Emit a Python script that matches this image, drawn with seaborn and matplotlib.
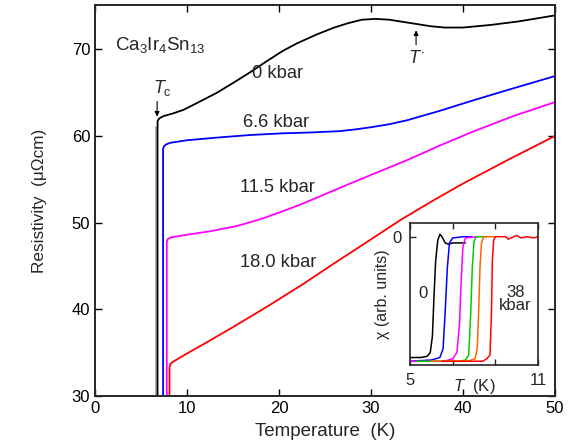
import pandas as pd
import matplotlib
matplotlib.use("Agg")
import matplotlib.pyplot as plt
import seaborn as sns

# ---------------- DATA ----------------
# resistivity vs temperature, one list pair per pressure
t_0 = [6.8, 6.8, 6.9, 7.1, 7.5, 8.5, 9.6, 11, 13.2, 15, 16.8, 18.5, 20.4, 22, 24.1, 26, 27.5, 29,
       30.5, 32, 33.5, 35, 36.5, 38, 40, 43, 46, 50]
r_0 = [30.0, 61.7, 61.9, 62.1, 62.3, 62.6, 63.0, 63.75, 64.95, 66.1, 67.3, 68.5, 69.8, 70.7, 71.7, 72.5, 73.0, 73.4,
       73.5, 73.4, 73.15, 72.9, 72.65, 72.5, 72.5, 72.8, 73.2, 73.9]

t_66 = [7.4, 7.4, 7.5, 7.7, 8.15, 10, 13.2, 16.8, 20.4, 23.5, 26.6, 28.3, 30, 32, 33.9, 37.5, 41.1, 45.5, 50]
r_66 = [30.0, 58.5, 58.8, 59.0, 59.2, 59.5, 59.8, 60.1, 60.3, 60.4, 60.55, 60.75, 61.0, 61.35, 61.8, 62.9, 64.1, 65.5, 66.9]

t_115 = [7.8, 7.8, 7.9, 8.3, 10, 12.5, 15.4, 18, 20.4, 22.6, 24.6, 26.6, 30, 33.9, 37.5, 41.1, 45.5, 50]
r_115 = [30.0, 47.7, 48.1, 48.3, 48.6, 49.0, 49.6, 50.4, 51.3, 52.2, 53.1, 54.0, 55.5, 57.2, 58.9, 60.5, 62.3, 63.9]

t_180 = [8.1, 8.1, 8.2, 8.4, 10, 12.5, 15.4, 19, 22.6, 26, 29.9, 33.2, 37, 40, 45, 50]
r_180 = [30.0, 33.3, 33.7, 33.9, 34.9, 36.4, 38.2, 40.5, 42.9, 45.3, 48.0, 50.3, 52.7, 54.5, 57.3, 60.0]

# faint grey trace just left of the 0 kbar transition
t_grey = [6.6, 6.6]
r_grey = [30.0, 61.0]

# inset: susceptibility steps, 0 ... 38 kbar
chi_t = {
    "0": [5.0, 5.5, 5.8, 5.95, 6.05, 6.12, 6.2, 6.3, 6.4, 6.5, 6.65, 6.8, 7.0, 7.3, 7.6],
    "b": [5.0, 6.0, 6.4, 6.55, 6.65, 6.75, 6.85, 7.0, 7.5, 7.9],
    "m": [5.0, 6.6, 7.0, 7.2, 7.32, 7.4, 7.48, 7.6, 8.2],
    "g": [5.3, 7.3, 7.6, 7.75, 7.85, 7.92, 8.0, 8.1, 8.6],
    "o": [6.0, 7.7, 8.05, 8.15, 8.22, 8.28, 8.35, 8.45, 9.0],
    "r": [6.5, 8.0, 8.4, 8.6, 8.75, 8.82, 8.86, 8.92, 9.0, 9.5, 9.6, 10.0, 10.2, 10.5, 10.8, 11.0],
}
chi_v = {
    "0": [-0.97, -0.97, -0.96, -0.93, -0.8, -0.5, -0.2, -0.03, 0.02, 0.0, -0.05, -0.06, -0.05, -0.05, -0.05],
    "b": [-1.0, -0.99, -0.97, -0.9, -0.6, -0.25, -0.05, -0.01, 0.0, 0.0],
    "m": [-1.0, -1.0, -0.98, -0.93, -0.7, -0.35, -0.08, -0.01, 0.0],
    "g": [-1.0, -1.0, -0.99, -0.95, -0.6, -0.25, -0.04, 0.0, 0.0],
    "o": [-1.0, -1.0, -0.98, -0.9, -0.6, -0.25, -0.05, 0.0, 0.0],
    "r": [-1.0, -1.0, -1.0, -0.98, -0.95, -0.6, -0.2, -0.03, 0.0, 0.0, -0.02, 0.01, -0.01, 0.0, -0.01, 0.0],
}
chi_colors = {"0": "#000000", "b": "#0000ff", "m": "#ff00ff",
              "g": "#00cc00", "o": "#ff6600", "r": "#ff0000"}

# ---------------- STYLE ----------------
sns.set_style("ticks")
plt.rcParams["font.family"] = ["Liberation Sans", "DejaVu Sans"]
plt.rcParams["mathtext.fontset"] = "custom"
plt.rcParams["mathtext.rm"] = "Liberation Sans"
plt.rcParams["mathtext.it"] = "Liberation Sans:italic"
plt.rcParams["xtick.direction"] = "in"
plt.rcParams["ytick.direction"] = "in"

fig = plt.figure(figsize=(5.75, 4.43), dpi=100)
ax = fig.add_axes([95 / 575, 47 / 443, 460 / 575, 391 / 443])

curves = [(t_grey, r_grey, "#aaaaaa"), (t_0, r_0, "black"), (t_66, r_66, "#0000ff"),
          (t_115, r_115, "#ff00ff"), (t_180, r_180, "#ff0000")]
for t, r, c in curves:
    df = pd.DataFrame({"T": t, "R": r})
    sns.lineplot(data=df, x="T", y="R", sort=False, estimator=None, color=c, lw=1.3, ax=ax)

ax.set_xlim(0, 50)
ax.set_ylim(30, 75.1)
ax.set_xticks([0, 10, 20, 30, 40, 50])
ax.set_yticks([30, 40, 50, 60, 70])
ax.tick_params(top=True, right=True, labelsize=12, length=5, width=1, colors="black")
for s in ax.spines.values():
    s.set_linewidth(1.4)
ax.set_xlabel("Temperature  (K)", fontsize=13.5, labelpad=5)
ax.set_ylabel("Resistivity  (\u03bc\u03a9cm)", fontsize=12.3, labelpad=18)

ax.text(2.2, 70.5, r"Ca$_3$Ir$_4$Sn$_{13}$", fontsize=13.5, va="center")
ax.text(17.1, 67.2, "0 kbar", fontsize=13.2, va="center")
ax.text(16.1, 61.6, "6.6 kbar", fontsize=13.2, va="center")
ax.text(15.8, 54.0, "11.5 kbar", fontsize=13.2, va="center")
ax.text(15.8, 45.4, "18.0 kbar", fontsize=13.2, va="center")

ax.annotate("", xy=(6.75, 61.9), xytext=(6.75, 64.3),
            arrowprops=dict(arrowstyle="-|>", color="black", lw=0.8, mutation_scale=7))
ax.text(7.3, 65.5, r"$T_\mathrm{c}$", fontsize=13, ha="center", va="center")
ax.annotate("", xy=(34.9, 72.5), xytext=(34.9, 70.2),
            arrowprops=dict(arrowstyle="-|>", color="black", lw=0.8, mutation_scale=7))
ax.text(34.9, 68.9, r"$T^{\bullet}$", fontsize=13, ha="center", va="center")

# ---------------- INSET ----------------
ins = fig.add_axes([410 / 575, 78 / 443, 128 / 575, 142 / 443])
for k in chi_t:
    df = pd.DataFrame({"T": chi_t[k], "chi": chi_v[k]})
    sns.lineplot(data=df, x="T", y="chi", sort=False, estimator=None,
                 color=chi_colors[k], lw=1.1, ax=ins)
ins.set_xlim(5, 11)
ins.set_ylim(-1.03, 0.11)
ins.set_xticks([5, 7, 9, 11])
ins.set_xticklabels(["5", "", "", "11"])
ins.set_yticks([0])
ins.set_yticklabels(["0"])
ins.tick_params(top=True, labelsize=12, length=4, width=1, pad=6)
for s in ins.spines.values():
    s.set_linewidth(1.2)
ins.set_xlabel("")
ins.set_ylabel("\u03c7 (arb. units)", fontsize=11.5, labelpad=2)
ins.text(0.5, -0.085, r"$T$  (K)", transform=ins.transAxes, fontsize=12,
         ha="center", va="top")
ins.text(5.6, -0.46, "0", fontsize=12, ha="center", va="center")
ins.text(9.95, -0.5, "38\nkbar", fontsize=12, ha="center", va="center", linespacing=0.9)

fig.savefig("out.png", dpi=100)
